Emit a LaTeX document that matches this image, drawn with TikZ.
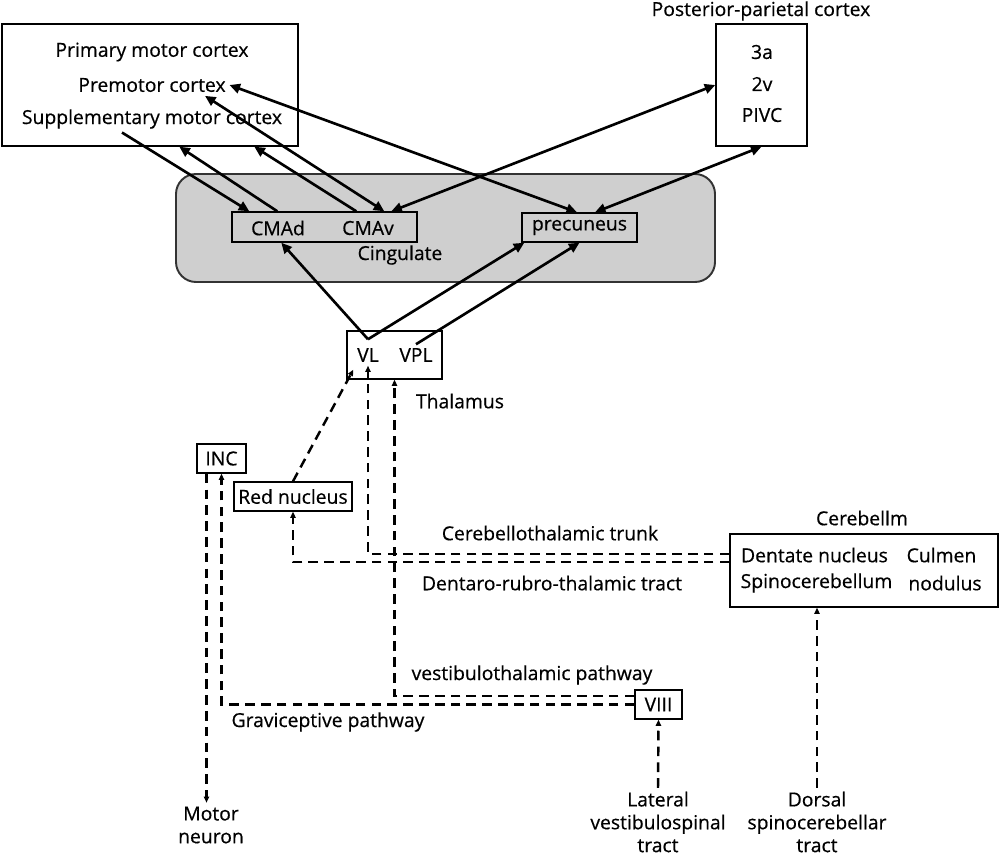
\documentclass[tikz,border=0pt]{standalone}
\usepackage{fontspec}
\setmainfont{Open Sans}[FakeBold=0.5]
\usetikzlibrary{arrows.meta, positioning}

\begin{document}
\begin{tikzpicture}[>=Stealth, font=\fontsize{11}{13}\selectfont,
  regionbox/.style={draw, line width=0.8pt, inner sep=0pt},
  lbl/.style={inner sep=2pt, align=center},
  fiber/.style={-{Triangle[length=6pt,width=5.5pt]}, line width=1.5pt},
  dualfiber/.style={{Triangle[length=6pt,width=5.5pt]}-{Triangle[length=6pt,width=5.5pt]}, line width=1.5pt},
  tract/.style={-{Triangle[length=3.5pt,width=3pt]}, line width=1.4pt, dash pattern=on 5.5pt off 3.5pt}]
  \useasboundingbox (0,0) rectangle (20,-17.12);
  % cortex boxes (top)
  \node[regionbox, minimum width=5.92cm, minimum height=2.44cm] (motor) at (3.00,-1.70) {};
  \node[lbl] (m1) at (3.04,-1.04) {Primary motor cortex};
  \node[lbl] (pm) at (3.04,-1.70) {Premotor cortex};
  \node[lbl] (sma) at (3.04,-2.38) {Supplementary motor cortex};
  \node[regionbox, minimum width=1.82cm, minimum height=2.44cm] (ppc) at (15.23,-1.70) {};
  \node[lbl] (ppctitle) at (15.22,-0.22) {Posterior-parietal cortex};
  \node[lbl] (a3) at (15.24,-1.04) {3a};
  \node[lbl] (v2) at (15.24,-1.68) {2v};
  \node[lbl] (pivc) at (15.24,-2.30) {PIVC};
  % cingulate
  \node[draw=black!80, fill=black!19, rounded corners=0.4cm, line width=1.1pt, minimum width=10.78cm, minimum height=2.16cm] (cing) at (8.91,-4.56) {};
  \node[regionbox, minimum width=3.70cm, minimum height=0.60cm] (cma) at (6.49,-4.54) {};
  \node[lbl] (cmad) at (5.56,-4.56) {CMAd};
  \node[lbl] (cmav) at (7.36,-4.56) {CMAv};
  \node[lbl] (cinglbl) at (8.00,-5.10) {Cingulate};
  \node[regionbox, minimum width=2.30cm, minimum height=0.58cm] (prec) at (11.59,-4.55) {precuneus};
  % thalamus
  \node[regionbox, minimum width=1.90cm, minimum height=0.96cm] (thal) at (7.89,-7.10) {};
  \node[lbl] (vl) at (7.36,-7.10) {VL};
  \node[lbl] (vpl) at (8.32,-7.10) {VPL};
  \node[lbl] (thallbl) at (9.20,-8.02) {Thalamus};
  % brainstem
  \node[regionbox, minimum width=0.98cm, minimum height=0.58cm] (inc) at (4.43,-9.17) {INC};
  \node[regionbox, minimum width=2.36cm, minimum height=0.58cm] (red) at (5.86,-9.93) {Red nucleus};
  \node[regionbox, minimum width=0.94cm, minimum height=0.58cm] (viii) at (13.17,-14.09) {VIII};
  % cerebellum
  \node[regionbox, minimum width=5.36cm, minimum height=1.46cm] (cereb) at (17.28,-11.41) {};
  \node[lbl] (cereblbl) at (17.24,-10.36) {Cerebellm};
  \node[lbl] (dent) at (16.29,-11.10) {Dentate nucleus};
  \node[lbl] (culm) at (18.83,-11.10) {Culmen};
  \node[lbl] (spino) at (16.33,-11.66) {Spinocerebellum};
  \node[lbl] (nod) at (18.90,-11.66) {nodulus};
  % pathway names
  \node[lbl] (ctt) at (11.00,-10.66) {Cerebellothalamic trunk};
  \node[lbl] (drt) at (11.04,-11.66) {Dentaro-rubro-thalamic tract};
  \node[lbl] (vtp) at (10.64,-13.50) {vestibulothalamic pathway};
  \node[lbl] (gp) at (6.56,-14.44) {Graviceptive pathway};
  % inputs / outputs (bottom)
  \node[lbl] (mn) at (4.22,-16.50) {Motor\\neuron};
  \node[lbl] (lvst) at (13.16,-16.44) {Lateral\\vestibulospinal\\tract};
  \node[lbl] (dsct) at (16.34,-16.44) {Dorsal\\spinocerebellar\\tract};

  % cortical connections
  \draw[fiber] ([xshift=-0.60cm]sma.south) -- ([xshift=0.36cm]cma.north west);
  \draw[fiber] ([xshift=0.92cm]cma.north west) -- ([xshift=3.56cm]motor.south west);
  \draw[fiber] ([xshift=2.50cm]cma.north west) -- ([xshift=5.06cm]motor.south west);
  \draw[dualfiber] ([xshift=1.06cm]pm.south) -- ([xshift=3.06cm]cma.north west);
  \draw[dualfiber] (pm.east) -- ([xshift=-0.05cm]prec.north);
  \draw[dualfiber] ([xshift=3.20cm]cma.north west) -- (ppc.west);
  \draw[dualfiber] ([xshift=0.31cm]prec.north) -- (ppc.south);
  % thalamic projections
  \coordinate (vltop) at ([yshift=0.1cm]vl.north);
  \draw[fiber] (vltop) -- ([xshift=1.00cm]cma.south west);
  \draw[fiber] (vltop) -- ([xshift=0.06cm]prec.south west);
  \draw[fiber] (vpl.north) -- (prec.south);
  % dashed tracts
  \draw[tract] (red.north) -- ([shift={(0.14cm,0.2cm)}]thal.south west);
  \draw[tract] ([yshift=0.33cm]cereb.west) -| (vl.south);
  \draw[tract] ([yshift=0.17cm]cereb.west) -| (red.south);
  \draw[tract] ([yshift=0.17cm]viii.west) -| (thal.south);
  \draw[tract] (viii.west) -| (inc.south);
  \draw[tract] ([xshift=-0.3cm]inc.south) -- ([xshift=-0.3cm]inc.south |- mn.north);
  \draw[tract] (lvst.north) -- (viii.south);
  \draw[tract] (dsct.north) -- (dsct.north |- cereb.south);
\end{tikzpicture}
\end{document}
